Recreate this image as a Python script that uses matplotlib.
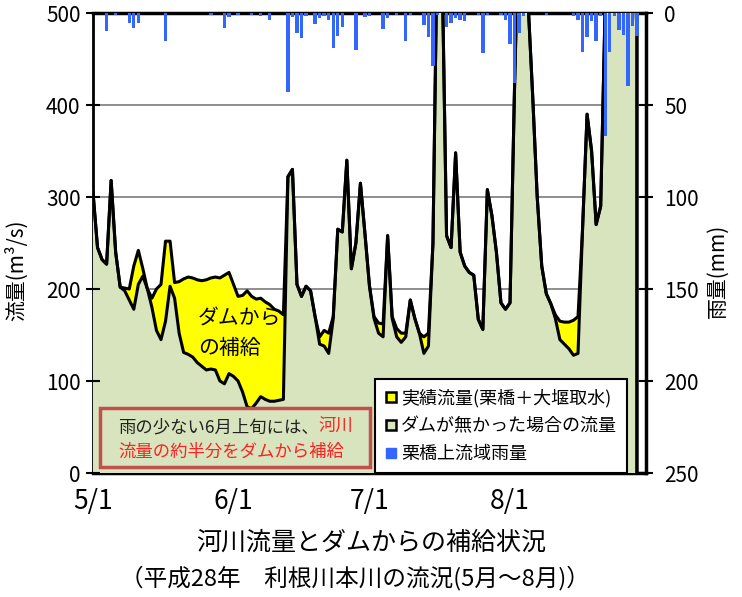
import numpy as np
import matplotlib
matplotlib.use("Agg")
import matplotlib.pyplot as plt
from matplotlib.lines import Line2D
from matplotlib.patches import Rectangle

plt.rcParams['font.family'] = ['Noto Sans CJK JP', 'DejaVu Sans']

# daily flow (m3/s), day 0 = 5/1
actual = [
    305, 245, 232, 227, 318, 240, 202, 201, 200, 225,
    242, 222, 200, 190, 200, 205, 252, 252, 207, 208,
    211, 213, 212, 210, 209, 210, 212, 213, 212, 215,
    218, 205, 192, 193, 198, 192, 189, 190, 186, 183,
    178, 176, 172, 322, 330, 205, 192, 203, 198, 170,
    148, 155, 152, 170, 265, 262, 340, 222, 250, 315,
    260, 203, 170, 163, 162, 258, 170, 157, 152, 152,
    188, 168, 152, 148, 152, 250, 600, 560, 258, 245,
    348, 240, 225, 218, 215, 167, 156, 308, 280, 240,
    185, 178, 185, 420, 620, 640, 510, 410, 300, 225,
    195, 184, 172, 165, 164, 164, 166, 170, 265, 390,
    350, 270, 290, 510, 650, 700, 720, 700, 680, 650,
    475]
no_dam = [
    305, 245, 232, 227, 318, 240, 202, 198, 188, 178,
    205, 214, 200, 180, 155, 145, 165, 203, 190, 152,
    131, 129, 126, 120, 116, 112, 113, 112, 100, 97,
    108, 105, 100, 88, 72, 70, 76, 83, 80, 78,
    78, 79, 80, 322, 330, 205, 192, 203, 198, 170,
    140, 138, 130, 168, 265, 262, 340, 222, 250, 315,
    260, 203, 168, 152, 148, 258, 168, 148, 142, 148,
    188, 168, 152, 130, 138, 250, 600, 560, 258, 245,
    348, 240, 225, 218, 215, 167, 156, 308, 280, 240,
    185, 178, 185, 420, 620, 640, 510, 410, 300, 225,
    195, 184, 168, 145, 140, 135, 128, 130, 265, 390,
    350, 270, 290, 510, 650, 700, 720, 700, 680, 650,
    475]

# rainfall (mm) above Kurihashi
rain_days = [3, 5, 8, 9, 10, 16, 26, 29, 30, 32, 35, 37, 39, 43, 44, 45, 46, 47, 49, 50,
             51, 52, 53, 54, 55, 58, 60, 61, 64, 65, 67, 69, 70, 73, 74, 75, 76, 78, 79, 80,
             81, 82, 85, 86, 87, 90, 91, 92, 93, 94, 95, 100, 106, 107, 108, 109, 110, 111,
             112, 113, 114, 115, 116, 117, 118, 119, 120]
rain_mm = [10, 1, 5.4, 8, 5.4, 15, 1, 8, 2, 1, 1, 1.5, 3.6, 43, 2, 11, 13.6, 1.5, 5.8, 2.7,
           1.8, 3.6, 19, 12.7, 7.6, 20, 2, 1.5, 8.7, 2.7, 1, 15, 1, 6.3, 13, 28.6, 1, 7.6, 5.4, 2.7,
           3.6, 4.5, 1, 22, 1, 1, 4, 16.7, 38, 11, 1.5, 1, 1.8, 3.6, 21, 13, 4.5, 15,
           1.8, 67, 21, 1.5, 9, 12, 39.5, 7, 12.7]

month_ticks = [0, 31, 61, 92]
month_labels = ["5/1", "6/1", "7/1", "8/1"]

days = np.arange(len(actual))
actual = np.array(actual, dtype=float)
no_dam = np.array(no_dam, dtype=float)

fig = plt.figure(figsize=(7.42, 5.97), dpi=100)
ax = fig.add_axes([93 / 742, 1 - 473 / 597, 553 / 742, 460 / 597])

ax.set_axisbelow(True)
ax.grid(axis='y', color='#868686', lw=1.3)

ax.fill_between(days, actual, color='#ffff00', lw=0, zorder=3)
ax.fill_between(days, no_dam, color='#d7e4bd', lw=0, zorder=3)
xe = np.r_[days, days[-1]]
ax.plot(xe, np.r_[actual, 0], color='black', lw=2.2, zorder=4, solid_joinstyle='round')
ax.plot(xe, np.r_[no_dam, 0], color='black', lw=2.2, zorder=4, solid_joinstyle='round')

ax.set_xlim(0, 122)
ax.set_ylim(0, 500)
ax.set_yticks(range(0, 501, 100))
ax.set_xticks(month_ticks)
ax.set_xticklabels(month_labels)
ax.tick_params(axis='x', labelsize=19, length=0, pad=11)
ax.tick_params(axis='y', labelsize=15, length=0, pad=9)
for s in ['top', 'bottom', 'right']:
    ax.spines[s].set_linewidth(2.5)
ax.spines['left'].set_linewidth(2)
ax.set_ylabel("流量(m³/s)", fontsize=15)
ax.yaxis.set_label_coords(-0.118, 0.44)

# rain on the right axis, hanging from the top
ax2 = ax.twinx()
ax2.bar(rain_days, rain_mm, width=0.75, color='#3366ff', zorder=3)
ax2.set_ylim(250, 0)
ax2.set_yticks(range(0, 251, 50))
ax2.tick_params(axis='y', labelsize=15, direction='inout', length=10, width=1.5, pad=8)
ax2.tick_params(axis='y', which='both', left=True)
ax2.tick_params(axis='x', bottom=True, direction='in', length=6, width=1.2)
for s in ax2.spines.values():
    s.set_visible(False)
ax2.set_ylabel("雨量(mm)", fontsize=15)
ax2.yaxis.set_label_coords(1.11, 0.44)

ax2.text(23.2, 152, "ダムから\nの補給", fontsize=15, ha='left', va='center',
         linespacing=1.4, transform=ax.transData)

ax2.add_patch(Rectangle((0.013, 0.013), 0.488, 0.128, transform=ax.transAxes,
                        fill=False, edgecolor='#c0504d', lw=2.5, zorder=5))
t1 = ax2.text(0.045, 0.1, "雨の少ない6月上旬には、", fontsize=12.5, color='#222222',
              ha='left', va='center', transform=ax.transAxes, zorder=6)
ax2.annotate("河川", xy=(1, 0), xycoords=t1, ha='left', va='bottom', fontsize=12.5,
             color='#ff2020', zorder=6)
ax2.text(0.045, 0.047, "流量の約半分をダムから補給", fontsize=12.5, color='#ff2020',
         ha='left', va='center', transform=ax.transAxes, zorder=6)

handles = [
    Line2D([], [], marker='s', ls='none', ms=7, mfc='#ffff00', mec='black', mew=1.8),
    Line2D([], [], marker='s', ls='none', ms=7, mfc='#d7e4bd', mec='black', mew=1.8),
    Line2D([], [], marker='s', ls='none', ms=7, mfc='#3366ff', mec='#3366ff', mew=1),
]
labels = ["実績流量(栗橋＋大堰取水)", "ダムが無かった場合の流量", "栗橋上流域雨量"]
leg = ax2.legend(handles, labels, loc='lower left', bbox_to_anchor=(0.51, 0.0),
                 fontsize=13, frameon=True, fancybox=False, framealpha=1,
                 edgecolor='black', handlelength=0.7, handletextpad=0.2,
                 labelspacing=0.55, borderpad=0.55, borderaxespad=0)
leg.get_frame().set_linewidth(1.5)
leg.set_zorder(10)

fig.text(0.5, 1 - 543 / 597, "河川流量とダムからの補給状況", fontsize=18,
         ha='center', va='center')
fig.text(0.478, 1 - 578 / 597, "（平成28年　利根川本川の流況(5月～8月)）", fontsize=17,
         ha='center', va='center')

fig.savefig("out.png", dpi=100)
